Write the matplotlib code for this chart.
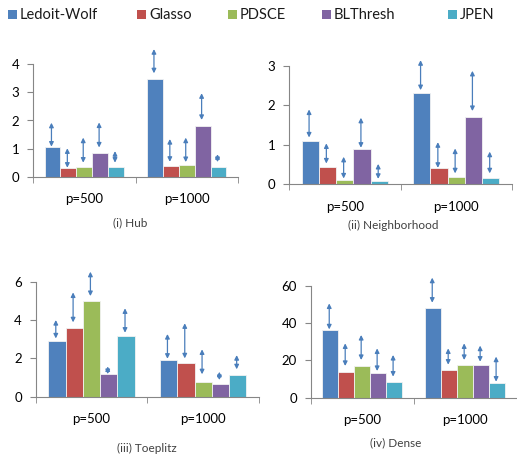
import matplotlib
matplotlib.use("Agg")
import matplotlib.pyplot as plt
from matplotlib.patches import Rectangle
import numpy as np

plt.rcParams['font.family'] = ['Lato', 'DejaVu Sans']

methods = ["Ledoit-Wolf", "Glasso", "PDSCE", "BLThresh", "JPEN"]
colors = ["#4F81BD", "#C0504D", "#9BBB59", "#8064A2", "#4BACC6"]
groups = ["p=500", "p=1000"]

# bar heights: [method][group]
hub_vals = [[1.04, 3.46], [0.31, 0.38], [0.34, 0.43], [0.84, 1.81], [0.34, 0.36]]
hub_lo = [[1.07, 3.68], [0.32, 0.53], [0.50, 0.52], [1.04, 2.02], [0.50, 0.52]]
hub_hi = [[1.92, 4.54], [1.01, 1.34], [1.39, 1.39], [1.93, 2.97], [0.91, 0.80]]

nbr_vals = [[1.10, 2.32], [0.42, 0.41], [0.10, 0.18], [0.88, 1.69], [0.07, 0.16]]
nbr_lo = [[1.18, 2.38], [0.52, 0.41], [0.14, 0.27], [0.92, 1.85], [0.13, 0.27]]
nbr_hi = [[1.89, 3.14], [1.03, 1.06], [0.69, 0.90], [1.68, 2.87], [0.51, 0.82]]

toe_vals = [[2.89, 1.91], [3.57, 1.74], [4.99, 0.77], [1.17, 0.66], [3.18, 1.13]]
toe_lo = [[3.04, 1.98], [3.88, 2.00], [5.25, 1.17], [1.18, 0.87], [3.34, 1.43]]
toe_hi = [[4.00, 3.27], [5.44, 3.83], [6.52, 2.47], [1.58, 1.30], [4.61, 2.17]]

den_vals = [[36.1, 47.9], [13.9, 14.6], [16.8, 17.5], [13.2, 17.5], [8.4, 7.7]]
den_lo = [[36.6, 50.9], [17.0, 17.7], [20.2, 20.2], [14.3, 19.3], [11.3, 8.6]]
den_hi = [[50.5, 64.3], [29.1, 26.4], [33.6, 29.1], [26.4, 27.9], [22.9, 22.0]]

panels = [
    ("(i) Hub", hub_vals, hub_lo, hub_hi, [0, 1, 2, 3, 4], 4),
    ("(ii) Neighborhood", nbr_vals, nbr_lo, nbr_hi, [0, 1, 2, 3], 3),
    ("(iii) Toeplitz", toe_vals, toe_lo, toe_hi, [0, 2, 4, 6], 6),
    ("(iv) Dense", den_vals, den_lo, den_hi, [0, 20, 40, 60], 60),
]

W, H = 517, 455
fig = plt.figure(figsize=(W / 100, H / 100), dpi=100)

# axes rectangles in pixel coords: left, right, top, bottom
rects = [
    (33, 238, 64.3, 176.7),
    (289, 512, 65.7, 184.0),
    (35.7, 259, 281.7, 396.7),
    (310.7, 516.7, 285.7, 397.7),
]
captions_pos = [(130, 223), (393, 225), (147, 448), (396, 443)]

axis_col = "#868686"
arrow_col = "#4A7EBB"
bw = 0.155
x = np.arange(len(groups))

for (title, vals, lo, hi, yt, ymax), (l, r, t, b), (cx, cy) in zip(panels, rects, captions_pos):
    ax = fig.add_axes([l / W, 1 - b / H, (r - l) / W, (b - t) / H])
    for i, m in enumerate(methods):
        xs = x + (i - 2) * bw
        ax.bar(xs, vals[i], width=bw, color=colors[i], edgecolor="#F2F2F2", linewidth=0.6, zorder=2)
        for j in range(len(groups)):
            ax.annotate("", xy=(xs[j] - 0.01, hi[i][j]), xytext=(xs[j] - 0.01, lo[i][j]),
                        arrowprops=dict(arrowstyle="<|-|>,head_length=0.26,head_width=0.13",
                                        color=arrow_col, lw=0.9, shrinkA=0, shrinkB=0),
                        annotation_clip=False, zorder=3)
    ax.set_xlim(-0.5, 1.5)
    ax.set_ylim(0, ymax)
    ax.set_yticks(yt)
    ax.set_yticklabels([str(v) for v in yt], fontsize=9.5)
    ax.set_xticks(x)
    ax.set_xticklabels(groups, fontsize=9.5)
    ax.set_xticks([-0.5, 0.5, 1.5], minor=True)
    ax.tick_params(axis="x", which="major", length=0, pad=12)
    ax.tick_params(axis="x", which="minor", length=4, color=axis_col, direction="out")
    ax.tick_params(axis="y", length=4, color=axis_col, direction="out", pad=6)
    for s in ["top", "right"]:
        ax.spines[s].set_visible(False)
    for s in ["left", "bottom"]:
        ax.spines[s].set_color(axis_col)
        ax.spines[s].set_linewidth(0.8)
    ax.patch.set_alpha(0)
    fig.text(cx / W, 1 - cy / H, title, ha="center", va="center", fontsize=8.5, color="#404040")

# legend
leg_sq = [8, 137, 228, 322, 448]
for sx, m, c in zip(leg_sq, methods, colors):
    fig.patches.append(Rectangle((sx / W, 1 - 19 / H), 9 / W, 9 / H, transform=fig.transFigure,
                                 facecolor=c, edgecolor="none"))
    fig.text((sx + 12) / W, 1 - 15 / H, m, ha="left", va="center", fontsize=10.5, color="#1a1a1a")

fig.savefig("out.png", dpi=100)
